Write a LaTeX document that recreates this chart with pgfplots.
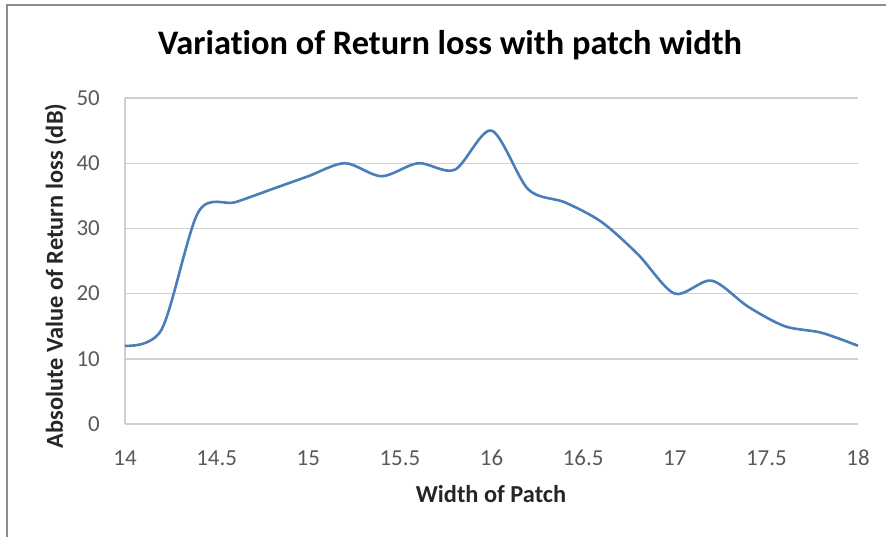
\documentclass[border=0pt]{standalone}
\usepackage{fontspec}
\setmainfont{Carlito}[Ligatures=NoCommon]
\usepackage{pgfplots}
\pgfplotsset{compat=1.18}

\definecolor{lineblue}{HTML}{4A7EBB}
\definecolor{gridgray}{HTML}{D0D0D0}
\definecolor{ticktext}{HTML}{595959}
\definecolor{labeltext}{HTML}{262626}
\definecolor{framegray}{HTML}{8C8C8C}

\begin{document}
\begin{tikzpicture}
	% page size and the frame of the original picture
	\path[use as bounding box] (-125bp,-113bp) rectangle (761bp,424bp);
	\draw[framegray, line width=1.6bp] (-118bp,-113bp) -- (-118bp,419bp) -- (761bp,419bp);
	
	\begin{axis}[
		at={(0,0)},
		anchor=south west,
		scale only axis,
		width=733bp,
		height=326bp,
		xmin=14, xmax=18,
		ymin=0, ymax=50,
		xtick={14,14.5,15,15.5,16,16.5,17,17.5,18},
		ytick={0,10,20,30,40,50},
		axis lines*=left,
		axis line style={gridgray, line width=1.4bp},
		major tick length=0pt,
		ymajorgrids,
		grid style={gridgray, line width=1.4bp},
		/pgf/number format/assume math mode=true,
		ticklabel style={font=\fontsize{23}{27}\selectfont, text=ticktext, inner sep=0pt},
		xticklabel style={anchor=base, yshift=-41bp},
		yticklabel style={anchor=east, xshift=-25bp},
		clip=false,
		]
		
		\addplot[
		smooth,
		tension=0.5,
		line width=2.6bp,
		draw=lineblue,
		line join=round
		] coordinates {
			(14.0,12.0)
			(14.2,14.5)
			(14.4,32.5)
			(14.6,34.0)
			(14.8,36.0)
			(15.0,38.0)
			(15.2,40.0)
			(15.4,38.0)
			(15.6,40.0)
			(15.8,39.0)
			(16.0,45.0)
			(16.2,36.0)
			(16.4,34.0)
			(16.6,31.0)
			(16.8,26.0)
			(17.0,20.0)
			(17.2,22.0)
			(17.4,18.0)
			(17.6,15.0)
			(17.8,14.0)
			(18.0,12.0)
		};
	\end{axis}
	
	% title and axis titles
	\node[anchor=base, text=black, font=\bfseries\fontsize{34.5}{41}\selectfont] at (325bp,369bp) {Variation of Return loss with patch width};
	\node[anchor=base, text=labeltext, font=\bfseries\fontsize{24.5}{29}\selectfont] at (366bp,-78bp) {Width of Patch};
	\node[anchor=base, rotate=90, text=labeltext, font=\bfseries\fontsize{24.5}{29}\selectfont] at (-62bp,148bp) {Absolute Value of Return loss (dB)};
\end{tikzpicture}
\end{document}
